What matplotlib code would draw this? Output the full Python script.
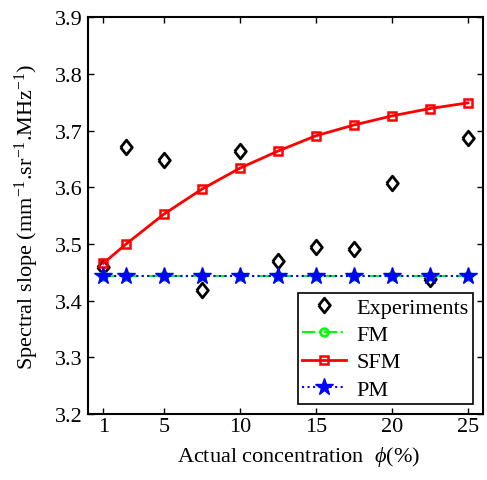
import matplotlib
matplotlib.use("Agg")
import matplotlib.pyplot as plt

plt.rcParams['font.family'] = ['Liberation Serif', 'DejaVu Serif']
plt.rcParams['mathtext.fontset'] = 'custom'
plt.rcParams['mathtext.rm'] = 'Liberation Serif'
plt.rcParams['mathtext.it'] = 'Liberation Serif:italic'

conc = [1, 2.5, 5, 7.5, 10, 12.5, 15, 17.5, 20, 22.5, 25]
experiments = [3.460, 3.672, 3.648, 3.419, 3.664, 3.470, 3.494, 3.492, 3.607, 3.438, 3.687]
fm = [3.443] * 11
sfm = [3.466, 3.500, 3.553, 3.597, 3.634, 3.664, 3.691, 3.710, 3.726, 3.739, 3.749]
pm = [3.443] * 11
xticks = [1, 5, 10, 15, 20, 25]
yticks = [3.2, 3.3, 3.4, 3.5, 3.6, 3.7, 3.8, 3.9]

FS = 16
diamond = [(-0.8, 0), (0, 1), (0.8, 0), (0, -1), (-0.8, 0)]

fig = plt.figure(figsize=(4.87, 4.81), dpi=100)
ax = fig.add_axes([0.181, 0.137, 0.811, 0.825])

ax.plot(conc, experiments, linestyle='none', marker=diamond, markersize=10.5,
        markerfacecolor='none', markeredgecolor='black', markeredgewidth=2,
        label='Experiments')
ax.plot(conc, fm, linestyle='-.', color='#00ff00', linewidth=1.5, marker='o',
        markersize=5.5, markerfacecolor='none', markeredgewidth=2, label='FM')
ax.plot(conc, sfm, linestyle='-', color='red', linewidth=2, marker='s',
        markersize=5.5, markerfacecolor='none', markeredgewidth=1.8, label='SFM')
ax.plot(conc, pm, linestyle=':', color='blue', linewidth=1.5, marker='*',
        markersize=13, markerfacecolor='blue', markeredgecolor='blue', label='PM')

ax.set_xlim(0, 26)
ax.set_ylim(3.2, 3.9)
ax.set_xticks(xticks)
ax.set_xticklabels([str(t) for t in xticks])
ax.set_yticks(yticks)
ax.set_yticklabels(['%.1f' % t for t in yticks])
ax.tick_params(direction='in', top=True, right=True, labelsize=FS,
               length=4, width=1)
ax.tick_params(axis='x', pad=2)
ax.tick_params(axis='y', pad=4)
for s in ax.spines.values():
    s.set_linewidth(1.5)

ax.set_xlabel(r'Actual concentration  $\phi$(%)', fontsize=FS, labelpad=4)
ax.xaxis.set_label_coords(0.532, -0.075)
ax.set_ylabel(r'Spectral slope (mm$^{-1}$.sr$^{-1}$.MHz$^{-1}$)', fontsize=FS,
              labelpad=10)

leg = ax.legend(loc='lower right', fontsize=FS, fancybox=False, framealpha=1,
                edgecolor='black', borderaxespad=0.45, handlelength=2.0,
                handletextpad=0.45, labelspacing=0.3, borderpad=0.2)
leg.get_frame().set_linewidth(1.2)

fig.savefig('out.png', dpi=100)
